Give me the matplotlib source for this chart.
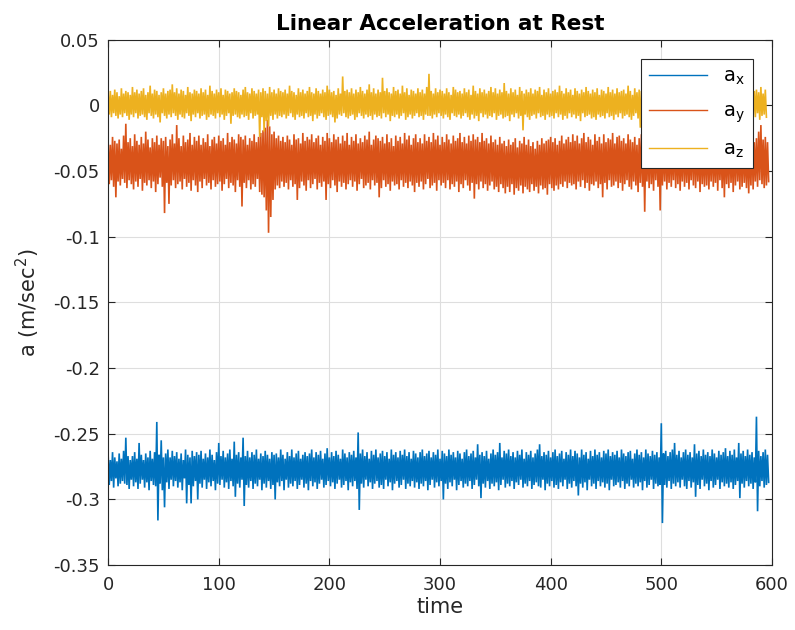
import numpy as np
import matplotlib
matplotlib.use("Agg")
import matplotlib.pyplot as plt

plt.rcParams['font.family'] = ['DejaVu Sans']
plt.rcParams['mathtext.default'] = 'regular'
plt.rcParams['axes.unicode_minus'] = False
plt.rcParams['path.simplify'] = False

# accelerometer samples at rest, one per second, in 1e-3 m/sec^2
ax_milli = [
    -266,-289,-270,-286,-264,-291,-268,-284,-271,-290,-265,-288,-269,-286,-263,-288,-253,-289,-267,-292,-270,
    -285,-267,-290,-264,-287,-269,-292,-257,-288,-266,-285,-270,-291,-265,-287,-268,-293,-263,-286,-269,
    -289,-264,-290,-241,-316,-266,-288,-255,-293,-268,-306,-265,-287,-262,-292,-268,-285,-263,-290,-267,
    -286,-264,-291,-269,-287,-265,-293,-270,-284,-262,-303,-266,-289,-268,-303,-263,-290,-267,-286,-264,
    -300,-266,-288,-263,-291,-269,-285,-265,-292,-268,-287,-262,-290,-266,-286,-270,-293,-264,-288,-257,
    -289,-267,-285,-263,-291,-268,-287,-265,-292,-262,-286,-269,-290,-256,-298,-266,-288,-264,-291,-268,
    -285,-253,-305,-267,-289,-263,-291,-268,-286,-264,-292,-266,-288,-262,-290,-269,-285,-265,-293,
    -267,-288,-263,-291,-266,-286,-269,-292,-264,-289,-266,-300,-265,-287,-268,-290,-262,-286,-266,-293,-269,
    -285,-264,-291,-267,-288,-262,-290,-268,-286,-265,-292,-263,-289,-269,-285,-266,-291,-264,-288,-267,
    -293,-265,-286,-262,-290,-268,-287,-264,-292,-266,-288,-263,-285,-269,-291,-265,-289,-261,-286,-268,
    -290,-264,-287,-267,-292,-263,-288,-266,-285,-269,-291,-262,-289,-265,-286,-268,-293,-264,-287,-266,
    -290,-263,-286,-268,-292,-249,-308,-265,-288,-262,-291,-267,-285,-264,-290,-269,-287,-263,-292,-266,
    -288,-262,-286,-268,-291,-265,-289,-263,-292,-267,-285,-264,-290,-269,-287,-262,-293,-266,-288,-264,
    -286,-268,-291,-263,-289,-266,-285,-262,-292,-267,-288,-264,-290,-269,-286,-263,-291,-265,-287,-268,
    -292,-264,-288,-262,-290,-267,-286,-265,-293,-263,-289,-268,-285,-264,-291,-266,-287,-262,-290,-269,
    -286,-263,-300,-265,-288,-267,-292,-262,-287,-266,-290,-264,-285,-268,-293,-263,-289,-265,-286,
    -269,-291,-264,-288,-262,-290,-267,-286,-265,-292,-263,-289,-268,-285,-258,-290,-266,-299,-264,-288,
    -267,-291,-263,-286,-269,-292,-265,-288,-262,-290,-266,-287,-264,-293,-257,-289,-268,-285,-263,-291,
    -265,-288,-262,-290,-267,-286,-264,-292,-268,-287,-263,-289,-266,-285,-262,-291,-269,-288,-264,-290,
    -266,-286,-263,-292,-268,-289,-265,-287,-262,-290,-258,-291,-267,-285,-264,-293,-266,-288,-263,-290,
    -268,-286,-264,-291,-262,-289,-267,-292,-265,-287,-263,-290,-269,-285,-264,-292,-266,-288,-262,-291,
    -267,-286,-263,-290,-265,-297,-268,-288,-262,-291,-266,-287,-264,-293,-269,-285,-263,-290,-267,-288,
    -262,-292,-266,-286,-264,-290,-268,-287,-263,-291,-265,-288,-262,-293,-267,-285,-264,-290,-266,-289,
    -263,-287,-268,-291,-262,-286,-265,-292,-267,-288,-264,-290,-263,-285,-269,-291,-265,-288,-262,-290,
    -266,-287,-264,-293,-268,-286,-262,-291,-265,-289,-267,-285,-263,-292,-266,-288,-264,-290,-268,-289,-242,
    -318,-265,-289,-263,-291,-267,-286,-264,-292,-262,-288,-257,-290,-266,-287,-263,-291,-268,-285,-264,
    -290,-262,-292,-266,-286,-264,-291,-268,-287,-258,-298,-265,-289,-263,-292,-267,-285,-262,-290,-266,
    -288,-264,-293,-267,-286,-262,-291,-265,-289,-268,-285,-263,-292,-266,-287,-264,-290,-261,-288,-267,
    -291,-263,-287,-266,-292,-262,-289,-268,-286,-257,-299,-265,-288,-263,-291,-267,-286,-262,-290,
    -266,-288,-264,-292,-268,-287,-237,-309,-263,-290,-267,-286,-264,-291,-262,-289,-266,-287,
]

ay_milli = [
    -27,-60,-30,-57,-24,-62,-27,-70,-29,-58,-26,-61,-33,-56,-23,-59,-14,-63,-28,-57,-25,
    -60,-31,-64,-22,-58,-27,-62,-30,-56,-24,-65,-29,-59,-20,-61,-26,-57,-32,-63,-25,
    -58,-28,-66,-23,-60,-30,-55,-25,-62,-27,-82,-24,-59,-31,-75,-26,-61,-22,-57,
    -29,-63,-15,-60,-25,-58,-31,-64,-23,-56,-28,-62,-26,-59,-21,-65,-30,-57,-24,-61,
    -27,-66,-23,-58,-30,-63,-25,-56,-28,-61,-22,-59,-31,-64,-26,-57,-24,-62,-29,-60,
    -23,-58,-27,-65,-25,-60,-30,-56,-21,-63,-28,-59,-24,-61,-26,-66,-29,-57,-22,-62,
    -24,-77,-26,-59,-23,-63,-30,-57,-25,-64,-27,-60,-22,-62,-28,-56,-24,-66,-21,-68,-19,
    -70,-17,-80,-11,-97,-16,-85,-22,-72,-20,-64,-25,-61,-23,-63,-27,-58,-24,-62,
    -28,-59,-23,-64,-26,-57,-30,-62,-22,-60,-26,-72,-25,-63,-29,-58,-21,-61,-27,-65,-24,
    -57,-26,-63,-22,-60,-28,-56,-25,-64,-23,-59,-30,-62,-24,-58,-27,-72,-21,-60,
    -25,-63,-28,-57,-22,-61,-26,-66,-24,-58,-29,-62,-23,-59,-27,-64,-21,-60,-30,-57,
    -24,-62,-27,-58,-22,-65,-29,-60,-25,-56,-28,-63,-23,-61,-26,-59,-20,-64,-30,-57,
    -26,-61,-23,-59,-25,-70,-27,-63,-24,-57,-29,-62,-22,-60,-28,-65,-25,-58,-31,-61,-23,
    -60,-27,-64,-24,-57,-29,-62,-21,-59,-26,-63,-23,-58,-30,-61,-25,-66,-22,-59,-28,
    -62,-25,-58,-29,-64,-22,-60,-27,-56,-24,-63,-28,-61,-21,-59,-26,-65,-23,-57,-30,
    -61,-24,-59,-28,-63,-22,-57,-26,-64,-29,-60,-23,-62,-27,-58,-25,-66,-21,-60,-28,
    -63,-24,-57,-29,-61,-23,-65,-27,-59,-22,-71,-26,-60,-24,-64,-28,-58,-21,-63,
    -27,-60,-25,-65,-29,-61,-23,-58,-28,-64,-26,-62,-30,-66,-24,-60,-29,-63,-27,-67,
    -31,-62,-26,-66,-30,-60,-28,-68,-25,-63,-32,-65,-27,-61,-29,-67,-24,-62,-30,-64,
    -26,-66,-31,-60,-28,-65,-33,-62,-27,-67,-30,-61,-25,-64,-29,-63,-27,-68,-26,-60,-24,
    -63,-28,-65,-25,-61,-30,-64,-27,-60,-23,-62,-29,-58,-26,-63,-24,-59,-28,-61,-22,
    -60,-27,-64,-23,-58,-29,-62,-25,-57,-21,-63,-28,-59,-24,-65,-26,-60,-30,-61,-22,
    -58,-27,-63,-24,-60,-29,-70,-22,-59,-28,-64,-25,-57,-26,-62,-21,-61,-29,-58,-24,
    -63,-23,-59,-27,-65,-25,-60,-29,-57,-22,-62,-26,-64,-28,-58,-24,-61,-30,-66,-25,
    -59,-22,-62,-28,-81,-24,-58,-27,-63,-21,-60,-29,-65,-23,-57,-26,-62,-30,-80,
    -24,-61,-27,-58,-22,-64,-28,-59,-25,-62,-30,-57,-21,-63,-26,-60,-23,-65,-29,-58,
    -22,-62,-27,-59,-24,-64,-30,-57,-23,-61,-20,-63,-28,-58,-25,-66,-22,-60,-29,-62,
    -25,-61,-21,-64,-27,-58,-24,-62,-30,-59,-22,-65,-26,-57,-28,-63,-24,-70,-21,-60,
    -27,-63,-23,-59,-29,-66,-22,-61,-26,-58,-28,-64,-21,-62,-25,-59,-30,-63,-23,-67,
    -27,-61,-22,-64,-28,-58,-25,-62,-20,-57,-15,-60,-26,-63,-24,-61,-28,-58,
]

az_milli = [
    9,-7,11,-9,8,-6,12,-8,10,-10,7,-7,13,-9,9,-6,11,-8,10,-11,
    8,-7,14,-9,10,-6,12,-10,9,-8,11,-7,13,-9,8,-11,10,-6,15,-8,
    9,-10,12,-7,11,-9,8,-13,10,-6,13,-8,9,-10,11,-7,12,-9,16,-6,
    10,-8,13,-11,9,-7,12,-9,11,-10,8,-6,14,-8,10,-12,9,-7,12,-9,
    11,-6,9,-10,13,-8,10,-7,12,-11,8,-9,15,-7,11,-8,9,-10,12,-6,
    10,-9,13,-7,8,-11,12,-8,11,-6,9,-14,10,-8,13,-7,11,-9,10,-10,
    8,-7,12,-9,14,-8,10,-11,9,-6,13,-10,11,-8,9,-7,12,-24,10,
    -9,13,-20,11,-12,9,-16,14,-8,10,-11,12,-7,9,-10,13,-8,11,-9,10,
    -7,12,-10,9,-8,15,-6,11,-9,10,-11,8,-7,13,-9,10,-8,12,-10,9,
    -6,11,-9,14,-8,10,-12,9,-7,13,-10,11,-8,9,-6,12,-9,10,-11,15,
    -8,12,-7,10,-9,11,-13,8,-10,13,-7,9,-8,22,-6,11,-9,12,-10,10,
    -8,13,-7,9,-11,12,-9,10,-6,14,-8,11,-10,9,-7,12,-9,16,-8,10,
    -11,13,-7,9,-9,12,-8,10,-10,21,-6,11,-9,13,-7,10,-12,9,-8,14,
    -9,11,-7,12,-10,9,-8,15,-6,10,-11,13,-9,8,-7,12,-10,11,-8,9,
    -6,13,-9,10,-8,12,-11,9,-7,14,-8,24,-8,11,-10,9,-7,13,-9,10,-6,
    12,-8,11,-10,9,-7,13,-9,10,-11,8,-6,14,-8,12,-9,10,-7,11,-10,
    9,-8,13,-6,10,-9,12,-11,8,-7,15,-10,11,-8,9,-12,13,-6,10,-9,
    12,-7,9,-10,11,-8,14,-9,10,-6,13,-11,9,-8,12,-7,10,-10,17,-9,
    11,-8,9,-12,13,-7,10,-9,12,-6,8,-10,14,-8,11,-19,9,-7,12,-9,
    10,-11,13,-8,9,-7,12,-10,11,-6,14,-9,8,-8,12,-11,10,-7,13,-9,
    9,-8,11,-10,12,-6,10,-9,15,-7,11,-11,9,-8,13,-10,10,-6,12,-9,
    8,-7,13,-10,11,-8,9,-12,12,-6,10,-9,14,-8,11,-7,9,-10,12,-9,
    10,-11,13,-7,8,-9,12,-8,11,-10,9,-6,14,-9,10,-8,12,-11,9,-7,
    13,-9,10,-6,11,-10,12,-8,9,-7,15,-9,11,-11,8,-8,13,-6,10,-10,
    12,-17,11,-9,10,-7,13,-10,9,-8,12,-6,11,-11,14,-9,10,-7,12,
    -9,11,-8,13,-10,9,-6,12,-11,10,-8,14,-7,9,-9,12,-10,11,-6,13,
    -8,10,-11,12,-7,9,-9,15,-8,11,-10,13,-6,10,-9,12,-7,9,-11,14,
    -8,11,-9,12,-7,10,-10,13,-6,9,-11,12,-8,14,-9,10,-7,11,-10,12,
    -9,13,-6,10,-8,11,-11,9,-7,14,-9,12,-10,10,-8,13,-6,11,-9,12,
    -10,9,-7,13,-8,11,-9,12,-6,10,-11,14,-8,9,-7,12,-9,
]

labels = ['a$_x$', 'a$_y$', 'a$_z$']
colors = ['#0072BD', '#D95319', '#EDB120']
yticks = [0.05, 0, -0.05, -0.1, -0.15, -0.2, -0.25, -0.3, -0.35]
ytick_labels = ['0.05', '0', '-0.05', '-0.1', '-0.15', '-0.2', '-0.25', '-0.3', '-0.35']
xticks = [0, 100, 200, 300, 400, 500, 600]

fig = plt.figure(figsize=(7.95, 6.3), dpi=100)
ax = fig.add_axes([0.136, 0.103, 0.835, 0.834])

for series, lab, col in zip([ax_milli, ay_milli, az_milli], labels, colors):
    vals = np.array(series) / 1000.0
    t = np.arange(len(vals))
    ax.plot(t, vals, color=col, lw=1.2, label=lab, solid_joinstyle='miter')

ax.set_xlim(0, 600)
ax.set_ylim(-0.35, 0.05)
ax.set_xticks(xticks)
ax.set_yticks(yticks)
ax.set_yticklabels(ytick_labels)

ax.grid(True, color='#dedede', lw=0.8)
ax.set_axisbelow(True)
ax.tick_params(direction='in', top=True, right=True, length=5, width=0.8,
               labelsize=13, colors='#262626')
ax.tick_params(axis='x', pad=8)
ax.tick_params(axis='y', pad=6)
for s in ax.spines.values():
    s.set_color('#262626')
    s.set_linewidth(0.8)

ax.set_xlabel('time', fontsize=15, color='#262626', labelpad=2)
ax.set_ylabel('a (m/sec$^2$)', fontsize=15, color='#262626', labelpad=8)
ax.set_title('Linear Acceleration at Rest', fontsize=15.5, fontweight='bold', pad=7)

leg = ax.legend(loc='upper right', fontsize=14, handlelength=3.0, frameon=True,
                fancybox=False, edgecolor='#262626', framealpha=1,
                borderaxespad=1.0, labelspacing=0.75)
leg.get_frame().set_linewidth(0.8)
for line in leg.get_lines():
    line.set_linewidth(1.0)

fig.savefig('out.png', dpi=100)
